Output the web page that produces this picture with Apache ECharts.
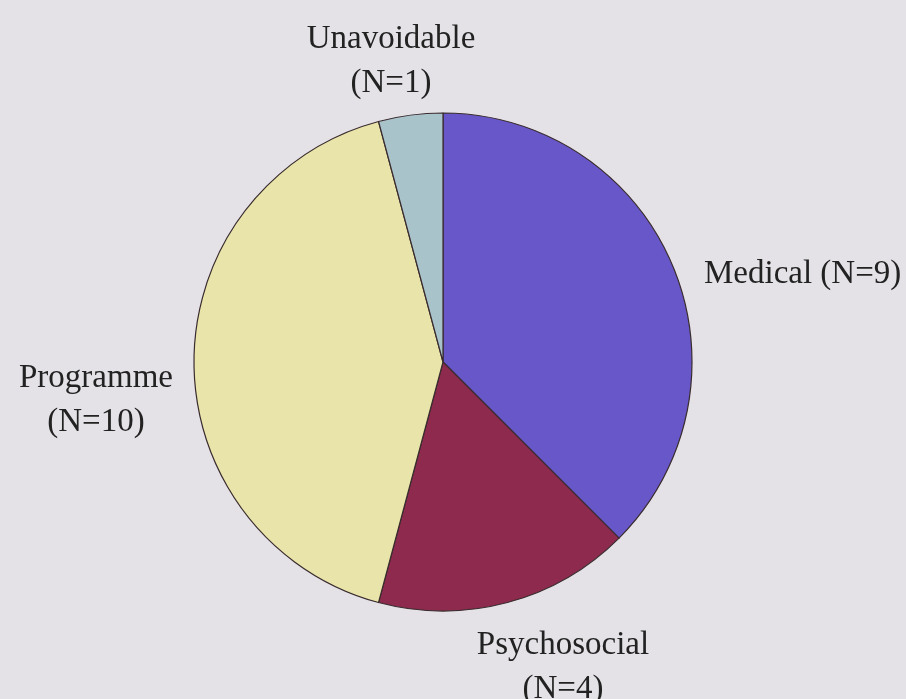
<!DOCTYPE html>
<html>
<head>
<meta charset="utf-8">
<style>
  html, body { margin: 0; padding: 0; background: #e4e2e7; }
  #chart { width: 906px; height: 699px; }
</style>
<script src="https://cdn.jsdelivr.net/npm/echarts@6/dist/echarts.min.js"></script>
</head>
<body>
<div id="chart"></div>
<script>
// reasons, clockwise from 12 o'clock
const categories = ['Medical', 'Psychosocial', 'Programme', 'Unavoidable']
const counts = [9, 4, 10, 1]
const colors = ['#6857c9', '#8d2a4d', '#e9e4a9', '#a9c3cb']

// where each label sits on the page: [x, y, align]
const labelSpots = {
  Medical: [704, 274, 'left'],
  Psychosocial: [563, 667, 'center'],
  Programme: [96, 400, 'center'],
  Unavoidable: [391, 61, 'center']
}

const chart = echarts.init(document.getElementById('chart'))

chart.setOption({
  backgroundColor: '#e4e2e7',
  animation: false,
  series: [{
    type: 'pie',
    center: [443, 362],
    radius: 249,
    startAngle: 90,
    clockwise: true,
    itemStyle: { borderColor: '#3a2c2e', borderWidth: 1.2 },
    label: {
      show: true,
      position: 'outside',
      overflow: 'none',
      edgeDistance: 0,
      bleedMargin: 0,
      fontFamily: 'Liberation Serif',
      fontSize: 33,
      lineHeight: 44,
      color: '#222',
      formatter: p => p.name === 'Medical'
        ? p.name + ' (N=' + p.value + ')'
        : p.name + '\n(N=' + p.value + ')'
    },
    labelLine: { show: false },
    labelLayout: params => {
      const spot = labelSpots[categories[params.dataIndex]]
      return { x: spot[0], y: spot[1], align: spot[2], verticalAlign: 'middle', width: 300 }
    },
    emphasis: { disabled: true },
    data: categories.map((name, i) => ({
      name,
      value: counts[i],
      itemStyle: { color: colors[i] }
    }))
  }]
})
</script>
</body>
</html>
